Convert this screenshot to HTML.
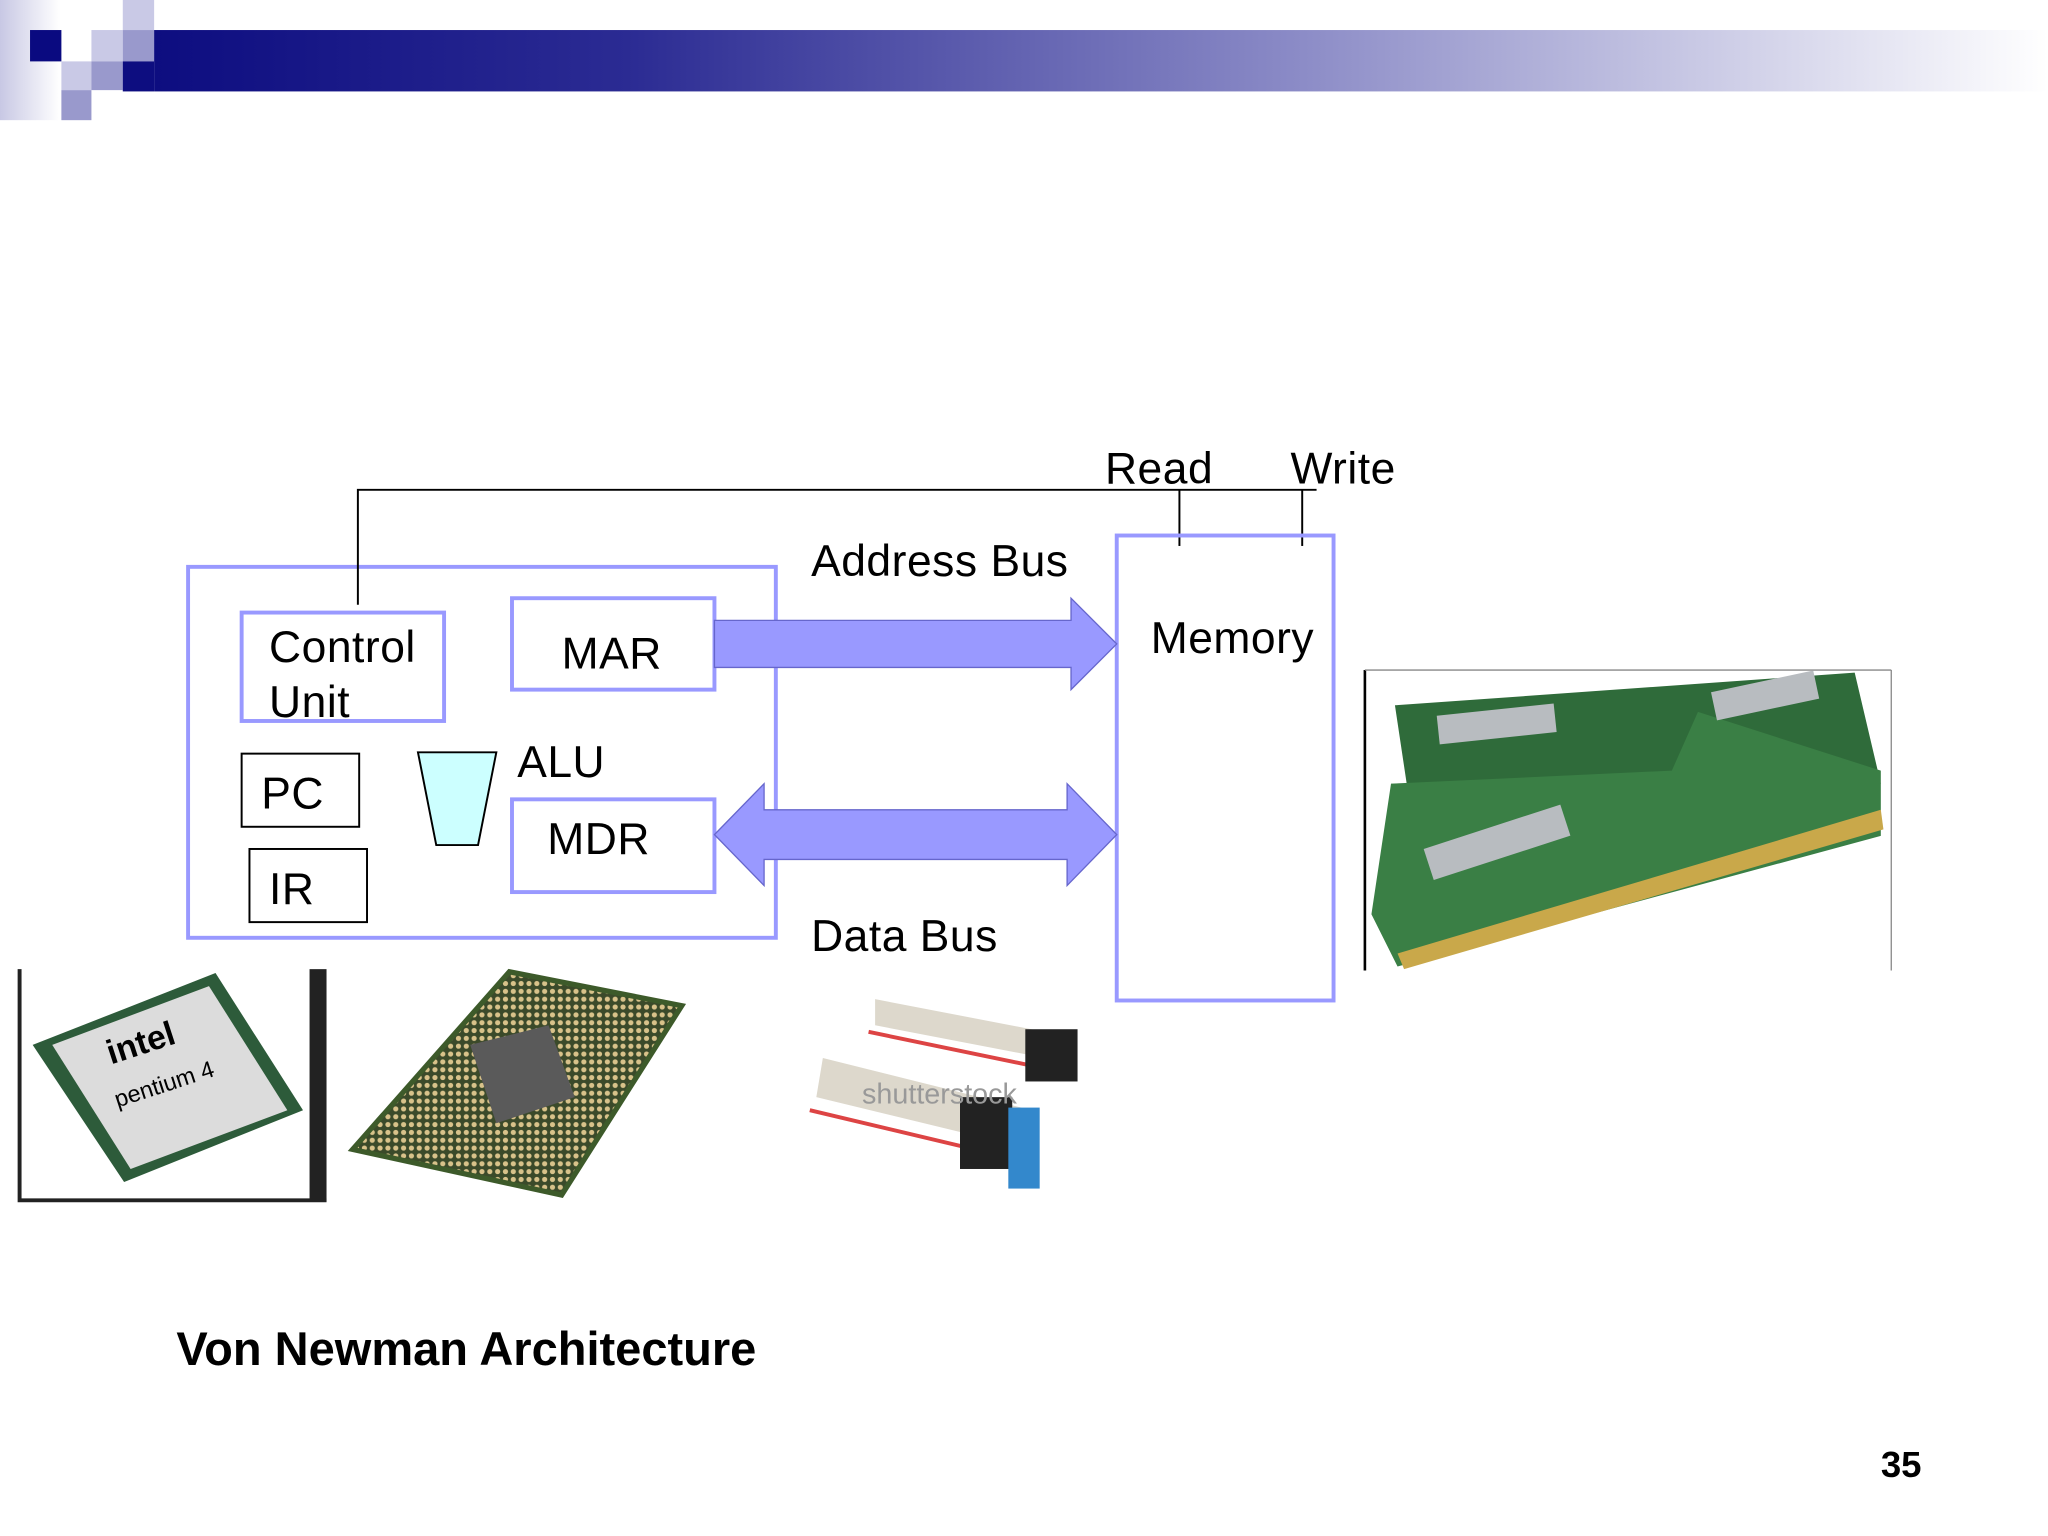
<!DOCTYPE html>
<html><head><style>
html,body{margin:0;padding:0;background:#fff;}
svg{display:block;}
text{font-family:"Liberation Sans",Arial,sans-serif;}
</style></head><body>
<svg width="2048" height="1536" viewBox="0 0 1568 1176" xmlns="http://www.w3.org/2000/svg">
<defs>
<linearGradient id="bar" x1="0" x2="1" y1="0" y2="0">
<stop offset="0" stop-color="#0d0d80"/><stop offset="0.25" stop-color="#2b2b93"/><stop offset="0.6" stop-color="#8a8ac6"/><stop offset="1" stop-color="#ffffff"/></linearGradient>
<linearGradient id="lft" x1="0" x2="1"><stop offset="0" stop-color="#c8c8e4"/><stop offset="1" stop-color="#ffffff"/></linearGradient>
<pattern id="pins" width="6" height="6" patternUnits="userSpaceOnUse"><rect width="6" height="6" fill="#3b4a2a"/><circle cx="3" cy="3" r="2" fill="#d8c28a"/></pattern>
</defs>
<rect x="0" y="0" width="46" height="92" fill="url(#lft)"/>
<rect x="23" y="23" width="24" height="24" fill="#0a0a80"/>
<rect x="94" y="0" width="24" height="23" fill="#c9c9e6"/>
<rect x="70" y="23" width="24" height="24" fill="#c9c9e6"/>
<rect x="94" y="23" width="24" height="24" fill="#9999cc"/>
<rect x="47" y="47" width="23" height="22" fill="#c9c9e6"/>
<rect x="70" y="47" width="24" height="22" fill="#9999cc"/>
<rect x="47" y="69" width="23" height="23" fill="#9999cc"/>
<rect x="118" y="23" width="1450" height="47" fill="url(#bar)"/>
<rect x="94" y="47" width="24" height="23" fill="#0d0d80"/>

<g style="letter-spacing:0.4px">
<rect x="144" y="434" width="450" height="284" fill="none" stroke="#9999ff" stroke-width="3"/>
<rect x="185" y="469" width="155" height="83" fill="none" stroke="#9999ff" stroke-width="3"/>
<text x="206" y="507" font-size="34">Control</text>
<text x="206" y="549" font-size="34">Unit</text>
<rect x="392" y="458" width="155" height="70" fill="none" stroke="#9999ff" stroke-width="3"/>
<text x="430" y="512" font-size="34">MAR</text>
<rect x="185" y="577" width="90" height="56" fill="none" stroke="#000" stroke-width="1.5"/>
<text x="200" y="619" font-size="34">PC</text>
<rect x="191" y="650" width="90" height="56" fill="none" stroke="#000" stroke-width="1.5"/>
<text x="206" y="692" font-size="34">IR</text>
<polygon points="320,576 380,576 366,647 334,647" fill="#ccffff" stroke="#000" stroke-width="1.5"/>
<text x="396" y="595" font-size="34">ALU</text>
<rect x="392" y="612" width="155" height="71" fill="none" stroke="#9999ff" stroke-width="3"/>
<text x="419" y="654" font-size="34">MDR</text>

<polyline points="274,463 274,375 1008,375" fill="none" stroke="#000" stroke-width="1.5"/>
<line x1="903" y1="375" x2="903" y2="418" stroke="#000" stroke-width="1.5"/>
<line x1="997" y1="375" x2="997" y2="418" stroke="#000" stroke-width="1.5"/>
<text x="846" y="370" font-size="34">Read</text>
<text x="988" y="370" font-size="34">Write</text>

<rect x="855" y="410" width="166" height="356" fill="none" stroke="#9999ff" stroke-width="3"/>
<text x="881" y="500" font-size="34">Memory</text>

<text x="621" y="441" font-size="34">Address Bus</text>
<polygon points="547,475 820,475 820,458 855,493 820,528 820,511 547,511" fill="#9999ff" stroke="#6666cc" stroke-width="1"/>
<polygon points="547,639 585,600 585,620 817,620 817,600 855,639 817,678 817,658 585,658 585,678" fill="#9999ff" stroke="#6666cc" stroke-width="1"/>
<text x="621" y="728" font-size="34">Data Bus</text>
</g>

<rect x="1045" y="513" width="403" height="230" fill="#fff"/>
<line x1="1045" y1="513" x2="1045" y2="743" stroke="#000" stroke-width="2"/>
<line x1="1045" y1="513" x2="1448" y2="513" stroke="#888" stroke-width="1"/>
<line x1="1448" y1="513" x2="1448" y2="743" stroke="#888" stroke-width="1"/>
<polygon points="1068,540 1420,515 1440,600 1080,620" fill="#2f6b3a"/>
<polygon points="1065,600 1280,590 1300,545 1440,590 1440,640 1070,740 1050,700" fill="#3a7f45"/>
<polygon points="1070,730 1440,620 1442,635 1075,742" fill="#c9a84a"/>
<rect x="1100" y="548" width="90" height="22" fill="#b8bcc0" transform="rotate(-6 1100 548)"/>
<rect x="1310" y="530" width="80" height="22" fill="#b8bcc0" transform="rotate(-12 1310 530)"/>
<rect x="1090" y="650" width="110" height="25" fill="#b8bcc0" transform="rotate(-18 1090 650)"/>

<rect x="14" y="742" width="236" height="178" fill="#fff"/>
<polyline points="15,742 15,919 250,919" fill="none" stroke="#222" stroke-width="3"/>
<rect x="237" y="742" width="13" height="178" fill="#222"/>
<polygon points="25,800 165,745 232,850 95,905" fill="#2d5b3a"/>
<polygon points="40,800 160,755 220,850 100,895" fill="#dcdcdc"/>
<text x="85" y="815" font-size="26" font-weight="bold" transform="rotate(-18 85 815)">intel</text>
<text x="90" y="848" font-size="18" transform="rotate(-18 90 848)">pentium 4</text>

<polygon points="270,880 390,744 522,770 430,915" fill="url(#pins)" stroke="#3d5a2a" stroke-width="4"/>
<polygon points="360,800 420,785 440,840 380,860" fill="#5a5a5a"/>

<polygon points="670,765 800,790 800,810 670,785" fill="#ddd8cc"/>
<polygon points="630,810 790,850 790,880 625,840" fill="#ddd8cc"/>
<line x1="665" y1="790" x2="800" y2="818" stroke="#d44" stroke-width="3"/>
<line x1="620" y1="850" x2="780" y2="888" stroke="#d44" stroke-width="3"/>
<rect x="785" y="788" width="40" height="40" fill="#222"/>
<rect x="735" y="840" width="40" height="55" fill="#222"/>
<rect x="772" y="848" width="24" height="62" fill="#3388cc"/>
<text x="660" y="845" font-size="22" fill="#999">shutterstock</text>

<text x="135" y="1045" font-size="36" font-weight="bold">Von Newman Architecture</text>
<text x="1440" y="1131" font-size="28" font-weight="bold">35</text>
</svg>
</body></html>
